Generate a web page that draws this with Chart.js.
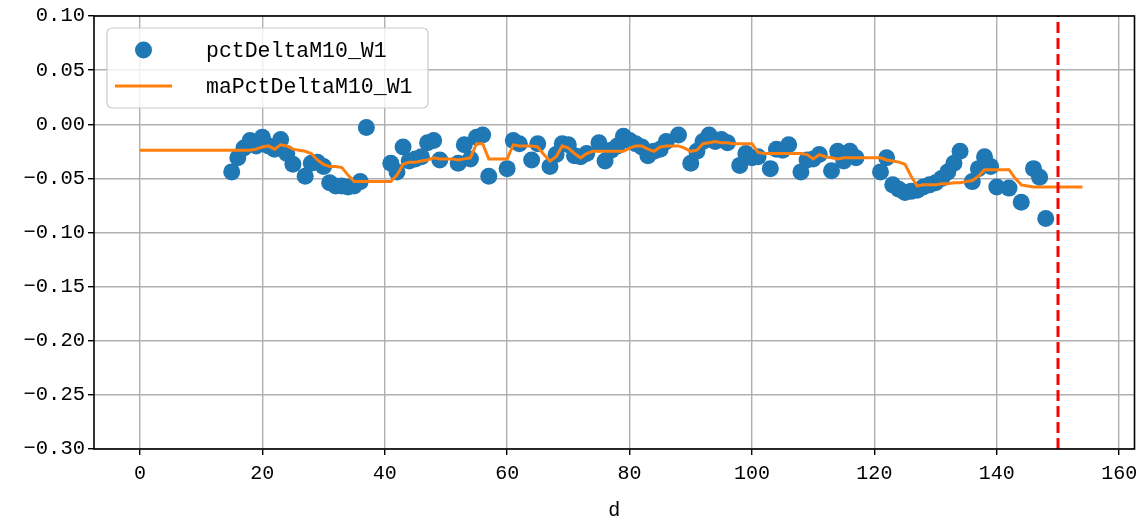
<!DOCTYPE html>
<html><head><meta charset="utf-8">
<script src="https://cdn.jsdelivr.net/npm/chart.js@4/dist/chart.umd.min.js"></script>
<style>html,body{margin:0;padding:0;background:#fff;}#wrap{width:1143px;height:520px;}</style>
</head><body><div id="wrap"><canvas id="c" width="1143" height="520"></canvas></div>
<script>
const seriesNames = ['pctDeltaM10_W1', 'maPctDeltaM10_W1'];
const xTitle = 'd';
const xTicks = [0, 20, 40, 60, 80, 100, 120, 140, 160];
const yTicks = [-0.30, -0.25, -0.20, -0.15, -0.10, -0.05, 0.00, 0.05, 0.10];
const markerDay = 150;

const scatterDays = [15,16,17,18,19,20,21,22,23,24,25,27,28,29,30,31,32,33,34,35,36,37,
  41,42,43,44,45,46,47,48,49,52,53,54,55,56,57,60,61,62,64,65,67,68,69,70,71,72,73,75,76,77,78,79,
  80,81,82,83,84,85,86,88,90,91,92,93,94,95,96,98,99,100,101,103,104,105,106,108,109,110,111,
  113,114,115,116,117,121,122,123,124,125,126,127,128,129,130,131,132,133,134,136,137,138,139,
  140,142,144,146,147,148];
const scatterValues = [-0.044,-0.031,-0.022,-0.015,-0.020,-0.012,-0.020,-0.023,-0.014,-0.027,-0.037,-0.048,-0.036,-0.035,-0.039,-0.054,-0.057,-0.057,-0.058,-0.057,-0.053,-0.003,
  -0.036,-0.044,-0.021,-0.034,-0.032,-0.030,-0.017,-0.015,-0.033,-0.036,-0.019,-0.032,-0.012,-0.010,-0.048,-0.041,-0.015,-0.018,-0.033,-0.018,-0.039,-0.028,-0.018,-0.019,-0.029,-0.030,-0.027,-0.017,-0.034,-0.024,-0.020,-0.011,
  -0.015,-0.018,-0.021,-0.029,-0.025,-0.023,-0.016,-0.010,-0.036,-0.025,-0.016,-0.010,-0.016,-0.014,-0.017,-0.038,-0.027,-0.031,-0.030,-0.041,-0.023,-0.024,-0.019,-0.044,-0.033,-0.032,-0.028,
  -0.043,-0.025,-0.034,-0.025,-0.031,-0.044,-0.031,-0.056,-0.060,-0.063,-0.062,-0.061,-0.058,-0.056,-0.054,-0.050,-0.044,-0.036,-0.025,-0.053,-0.041,-0.030,-0.039,
  -0.058,-0.059,-0.072,-0.041,-0.049,-0.087];

// moving average, one value per day 0..154
const maValues = [
  -0.024,-0.024,-0.024,-0.024,-0.024,-0.024,-0.024,-0.024,-0.024,-0.024,
  -0.024,-0.024,-0.024,-0.024,-0.024,-0.024,-0.024,-0.024,-0.024,-0.023,
  -0.021,-0.020,-0.023,-0.019,-0.020,-0.023,-0.024,-0.025,-0.027,-0.033,
  -0.037,-0.039,-0.039,-0.040,-0.047,-0.053,-0.053,-0.053,-0.053,-0.053,
  -0.053,-0.053,-0.047,-0.037,-0.035,-0.035,-0.034,-0.033,-0.031,-0.032,
  -0.032,-0.032,-0.033,-0.032,-0.031,-0.018,-0.018,-0.032,-0.032,-0.032,
  -0.032,-0.019,-0.020,-0.020,-0.020,-0.021,-0.028,-0.034,-0.030,-0.020,
  -0.022,-0.027,-0.031,-0.027,-0.025,-0.025,-0.025,-0.025,-0.025,-0.025,
  -0.022,-0.020,-0.020,-0.023,-0.025,-0.021,-0.020,-0.020,-0.020,-0.022,
  -0.025,-0.024,-0.018,-0.017,-0.016,-0.017,-0.017,-0.018,-0.018,-0.018,
  -0.018,-0.026,-0.027,-0.027,-0.027,-0.027,-0.027,-0.027,-0.027,-0.028,
  -0.032,-0.028,-0.030,-0.031,-0.032,-0.031,-0.031,-0.031,-0.031,-0.031,
  -0.031,-0.031,-0.033,-0.034,-0.035,-0.037,-0.048,-0.057,-0.056,-0.056,
  -0.056,-0.055,-0.055,-0.054,-0.054,-0.053,-0.052,-0.048,-0.042,-0.042,
  -0.042,-0.042,-0.042,-0.050,-0.056,-0.057,-0.058,-0.058,-0.058,-0.058,
  -0.058,-0.058,-0.058,-0.058,-0.058
];

const BLUE = '#1f77b4', ORANGE = '#ff7f0e', RED = '#ff0000';
const FONT = "'Liberation Mono', 'DejaVu Sans Mono', monospace";

const scatterData = scatterDays.map((d, i) => ({x: d, y: scatterValues[i]}));
const maData = maValues.map((v, i) => ({x: i, y: v}));
const vlineData = [{x: markerDay, y: yTicks[0]}, {x: markerDay, y: yTicks[yTicks.length - 1]}];

const framePlugin = {
  id: 'frame',
  afterDatasetsDraw(chart) {
    const a = chart.chartArea, ctx = chart.ctx;
    ctx.save();
    ctx.strokeStyle = '#000';
    ctx.lineWidth = 1.6;
    ctx.strokeRect(a.left, a.top, a.right - a.left, a.bottom - a.top);
    ctx.restore();
  }
};

const legendPlugin = {
  id: 'mplLegend',
  afterDraw(chart) {
    const ctx = chart.ctx;
    ctx.save();
    const x = 107, y = 28, w = 321, h = 80, r = 5;
    ctx.beginPath();
    ctx.moveTo(x + r, y);
    ctx.arcTo(x + w, y, x + w, y + h, r);
    ctx.arcTo(x + w, y + h, x, y + h, r);
    ctx.arcTo(x, y + h, x, y, r);
    ctx.arcTo(x, y, x + w, y, r);
    ctx.closePath();
    ctx.fillStyle = 'rgba(255,255,255,0.8)';
    ctx.fill();
    ctx.strokeStyle = '#cccccc';
    ctx.lineWidth = 1.2;
    ctx.stroke();
    ctx.beginPath();
    ctx.arc(143.5, 50, 8.5, 0, Math.PI * 2);
    ctx.fillStyle = BLUE;
    ctx.fill();
    ctx.beginPath();
    ctx.moveTo(115, 86);
    ctx.lineTo(172, 86);
    ctx.strokeStyle = ORANGE;
    ctx.lineWidth = 3;
    ctx.stroke();
    ctx.fillStyle = '#000';
    ctx.font = "21.5px " + FONT;
    ctx.textBaseline = 'middle';
    ctx.textAlign = 'left';
    ctx.fillText(seriesNames[0], 206, 51);
    ctx.fillText(seriesNames[1], 206, 87);
    ctx.restore();
  }
};

new Chart(document.getElementById('c'), {
  type: 'scatter',
  data: {
    datasets: [
      {label: seriesNames[0], data: scatterData, backgroundColor: BLUE, borderColor: BLUE,
       pointRadius: 8.5, pointBorderWidth: 0, pointHoverRadius: 8.5, order: 3},
      {label: seriesNames[1], data: maData, showLine: true, borderColor: ORANGE, borderWidth: 3,
       pointRadius: 0, pointHoverRadius: 0, tension: 0, order: 2},
      {label: 'marker', data: vlineData, showLine: true, borderColor: RED, borderWidth: 3,
       borderDash: [11, 5], pointRadius: 0, pointHoverRadius: 0, order: 1}
    ]
  },
  options: {
    responsive: false,
    animation: false,
    devicePixelRatio: 1,
    layout: {padding: {top: 16, right: 7, left: 0, bottom: 0}},
    plugins: {legend: {display: false}, tooltip: {enabled: false}},
    scales: {
      x: {
        type: 'linear', min: -7.5, max: 162.5,
        afterBuildTicks: s => { s.ticks = xTicks.map(v => ({value: v})); },
        afterFit: s => { s.height = 71; s.paddingRight = 0; s.paddingLeft = 0; },
        ticks: {color: '#000', font: {family: FONT, size: 20}, padding: 7, maxRotation: 0, autoSkip: false},
        grid: {color: '#b0b0b0', lineWidth: 1.4, tickColor: '#000', tickLength: 6, tickWidth: 1.4},
        border: {display: false},
        title: {display: true, text: xTitle, color: '#000', font: {family: FONT, size: 20, lineHeight: 0.9}, padding: 0}
      },
      y: {
        type: 'linear', min: yTicks[0], max: yTicks[yTicks.length - 1],
        afterBuildTicks: s => { s.ticks = yTicks.map(v => ({value: v})); },
        afterFit: s => { s.width = 94; s.paddingTop = 0; s.paddingBottom = 0; },
        ticks: {color: '#000', font: {family: FONT, size: 20.5}, padding: 3,
          callback: v => v.toFixed(2).replace('-', '\u2212')},
        grid: {color: '#b0b0b0', lineWidth: 1.4, tickColor: '#000', tickLength: 6, tickWidth: 1.4},
        border: {display: false}
      }
    }
  },
  plugins: [framePlugin, legendPlugin]
});
</script></body></html>
